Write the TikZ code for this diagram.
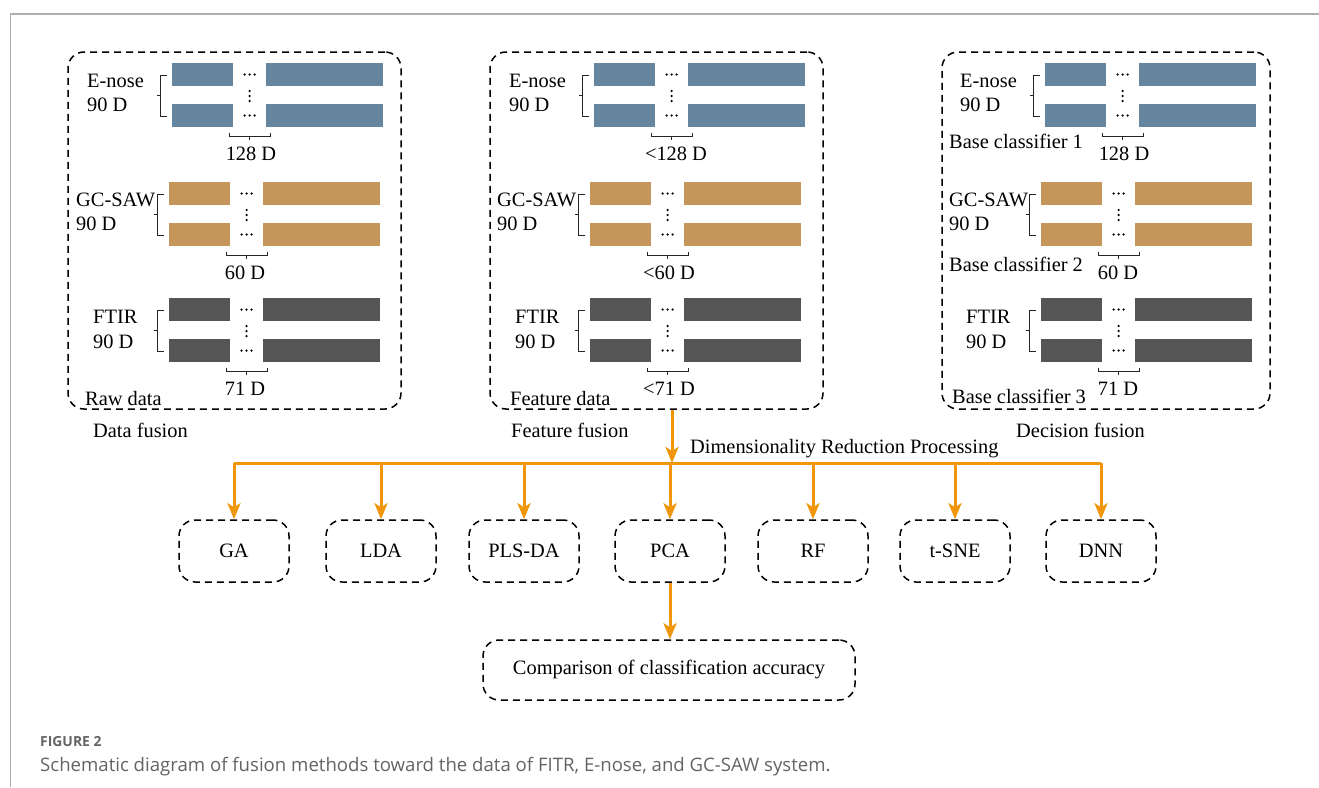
\documentclass[tikz,border=0pt]{standalone}
\usepackage{fontspec}
\setmainfont{Liberation Serif}
\newfontfamily\capfont{Open Sans}
\usetikzlibrary{arrows.meta}
\definecolor{barblue}{RGB}{101,134,158}
\definecolor{bartan}{RGB}{196,150,90}
\definecolor{bargray}{RGB}{85,85,85}
\definecolor{orangeline}{RGB}{240,150,10}
\definecolor{capgray}{RGB}{100,100,100}
\definecolor{framegray}{RGB}{175,175,175}

\tikzset{
  bracket/.style={line width=1pt, draw=black!85},
  lbl/.style={anchor=base west, inner sep=0pt, font=\fontsize{20.4}{24}\selectfont},
  dimlbl/.style={anchor=base, inner sep=0pt, font=\fontsize{20.4}{24}\selectfont},
  dbox/.style={draw, line width=1.5pt, dash pattern=on 7pt off 5pt, rounded corners=16pt},
  sbox/.style={dbox, minimum width=110pt, minimum height=62pt, inner sep=0pt, font=\fontsize{20.4}{24}\selectfont},
  oline/.style={draw=orangeline, line width=3pt},
  oarr/.style={oline, -{Stealth[length=16pt, width=13pt, inset=4pt]}}
}

% #1 = left x of the bars, #2 = top y of the first bar, #3 = colour
\newcommand\sensorrow[3]{%
  \fill[#3] (#1,#2) rectangle ({#1+61},{#2+23});
  \fill[#3] ({#1+94},#2) rectangle ({#1+211},{#2+23});
  \fill[#3] (#1,{#2+41}) rectangle ({#1+61},{#2+64});
  \fill[#3] ({#1+94},{#2+41}) rectangle ({#1+211},{#2+64});
  \draw[bracket] ({#1-5},{#2+12}) -- ({#1-12},{#2+12}) -- ({#1-12},{#2+53}) -- ({#1-5},{#2+53});
  \draw[bracket] ({#1-12},{#2+32.5}) -- ({#1-15.5},{#2+32.5});
  \draw[bracket] ({#1+57},{#2+69.5}) -- ({#1+57},{#2+73}) -- ({#1+98},{#2+73}) -- ({#1+98},{#2+69.5});
  \draw[bracket] ({#1+77.5},{#2+73}) -- ({#1+77.5},{#2+76.5});
  \foreach \dx in {-5,0,5} {
    \fill ({#1+77.5+\dx},{#2+11.5}) circle (1.25pt);
    \fill ({#1+77.5+\dx},{#2+52.5}) circle (1.25pt);
  }
  \foreach \dy in {28,33,38} {
    \fill ({#1+77.5},{#2+\dy}) circle (1.25pt);
  }
}

\begin{document}
\begin{tikzpicture}[x=1pt, y=-1pt]
\useasboundingbox (0,0) rectangle (1319,787);
\fill[white] (0,0) rectangle (1319,787);

% page frame
\draw[draw=framegray, line width=2pt] (10,14) -- (1319,14);
\draw[draw=framegray, line width=1pt] (10,14) -- (10,787);

% ---------- panel boxes ----------
\node[dbox, minimum width=333pt, minimum height=357pt, inner sep=0pt] (box1) at (234.5,230.5) {};
\node[dbox, minimum width=333pt, minimum height=357pt, inner sep=0pt] (box2) at (656.5,230.5) {};
\node[dbox, minimum width=328pt, minimum height=357pt, inner sep=0pt] (box3) at (1106,230.5) {};

% ---------- panel 1: data fusion ----------
\sensorrow{172}{63}{barblue}
\sensorrow{169}{182}{bartan}
\sensorrow{169}{298}{bargray}
\node[lbl] (p1a) at (87,87) {E-nose};
\node[lbl] (p1b) at (87,111) {90 D};
\node[lbl] (p1c) at (76,206) {GC-SAW};
\node[lbl] (p1d) at (76,230) {90 D};
\node[lbl] (p1e) at (93,323) {FTIR};
\node[lbl] (p1f) at (93,348) {90 D};
\node[dimlbl] (p1g) at (251,160) {128 D};
\node[dimlbl] (p1h) at (245,279) {60 D};
\node[dimlbl] (p1i) at (245,395) {71 D};
\node[lbl] (p1j) at (85,405) {Raw data};
\node[lbl] (p1k) at (93,437) {Data fusion};

% ---------- panel 2: feature fusion ----------
\sensorrow{594}{63}{barblue}
\sensorrow{590}{182}{bartan}
\sensorrow{590}{298}{bargray}
\node[lbl] (p2a) at (509,87) {E-nose};
\node[lbl] (p2b) at (509,111) {90 D};
\node[lbl] (p2c) at (497,206) {GC-SAW};
\node[lbl] (p2d) at (497,230) {90 D};
\node[lbl] (p2e) at (515,323) {FTIR};
\node[lbl] (p2f) at (515,348) {90 D};
\node[dimlbl] (p2g) at (676,160) {<128 D};
\node[dimlbl] (p2h) at (669,279) {<60 D};
\node[dimlbl] (p2i) at (669,395) {<71 D};
\node[lbl] (p2j) at (510,405) {Feature data};
\node[lbl] (p2k) at (511,437) {Feature fusion};

% ---------- panel 3: decision fusion ----------
\sensorrow{1045}{63}{barblue}
\sensorrow{1041}{182}{bartan}
\sensorrow{1041}{298}{bargray}
\node[lbl] (p3a) at (960,87) {E-nose};
\node[lbl] (p3b) at (960,111) {90 D};
\node[lbl] (p3c) at (949,206) {GC-SAW};
\node[lbl] (p3d) at (949,230) {90 D};
\node[lbl] (p3e) at (966,323) {FTIR};
\node[lbl] (p3f) at (966,348) {90 D};
\node[dimlbl] (p3g) at (1124,160) {128 D};
\node[dimlbl] (p3h) at (1118,279) {60 D};
\node[dimlbl] (p3i) at (1118,395) {71 D};
\node[lbl] (p3l) at (949,148) {Base classifier 1};
\node[lbl] (p3m) at (949,271) {Base classifier 2};
\node[lbl] (p3j) at (952,403) {Base classifier 3};
\node[lbl] (p3k) at (1016,437) {Decision fusion};

% ---------- methods ----------
\node[lbl] (drp) at (690,453) {Dimensionality Reduction Processing};
\coordinate (bus) at (672,463);

\node[sbox] (ga)   at (234,551) {GA};
\node[sbox] (lda)  at (381,551) {LDA};
\node[sbox] (pls)  at (524,551) {PLS-DA};
\node[sbox] (pca)  at (670,551) {PCA};
\node[sbox] (rf)   at (813,551) {RF};
\node[sbox] (tsne) at (955,551) {t-SNE};
\node[sbox] (dnn)  at (1101,551) {DNN};
\node[sbox, minimum width=372pt, minimum height=60pt] (cmp) at (669,670) {Comparison of classification accuracy};

\draw[oarr] (box2.south -| bus) -- (bus);
\draw[oline] (ga.north |- bus) -- (dnn.north |- bus);
\foreach \n in {ga,lda,pls,pca,rf,tsne,dnn} {
  \draw[oarr] (\n.north |- bus) -- (\n.north);
}
\draw[oarr] (pca.south) -- (pca.south |- cmp.north);

% ---------- caption ----------
\node[anchor=base west, inner sep=0pt, text=capgray, font=\capfont\bfseries\fontsize{13.9}{16}\selectfont] (fig) at (40,746) {FIGURE 2};
\node[anchor=base west, inner sep=0pt, text=capgray, font=\capfont\fontsize{18.6}{22}\selectfont] (cap) at (40,771) {Schematic diagram of fusion methods toward the data of FITR, E-nose, and GC-SAW system.};
\end{tikzpicture}
\end{document}
